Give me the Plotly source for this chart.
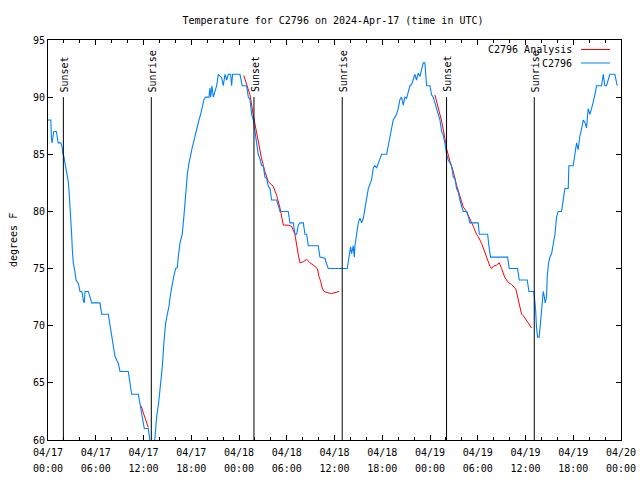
import plotly.graph_objects as go
import pandas as pd

BASE = pd.Timestamp("2024-04-17 00:00")

# Observed temperature (hours since 04/17 00:00 UTC, deg F)
blue_hours = [0.00, 0.36, 0.42, 0.50, 0.62, 0.72, 1.05, 1.12, 1.28, 1.60, 1.78, 1.88, 2.00, 2.14, 2.26, 2.43, 2.55, 2.68, 2.85, 2.97,
              3.06, 3.18, 3.39, 3.52, 3.81, 3.94, 4.02, 4.23, 4.31, 4.44, 4.56, 4.65, 5.07, 5.28, 5.49, 6.53, 6.74, 7.58, 7.79, 8.00,
              8.21, 8.42, 8.63, 8.84, 9.05, 10.09, 10.30, 10.51, 11.35, 11.56, 11.77, 11.98, 12.10, 12.60, 12.81, 13.00, 13.30, 13.44,
              13.65, 13.94, 14.15, 14.36, 14.57, 14.78, 14.99, 15.20, 15.41, 15.62, 15.83, 16.04, 16.25, 16.37, 16.58, 16.79, 16.87,
              17.09, 17.30, 17.50, 17.71, 17.92, 18.13, 18.34, 18.55, 18.76, 18.97, 19.18, 19.39, 19.60, 19.81, 20.23, 20.35, 20.44,
              20.60, 20.77, 21.19, 21.40, 21.82, 22.03, 22.24, 22.45, 22.65, 22.95, 23.07, 23.20, 24.12, 24.40, 24.96, 25.17, 25.38,
              25.59, 25.80, 26.00, 26.20, 26.42, 26.63, 26.84, 27.05, 27.26, 27.47, 27.68, 27.89, 28.10, 28.73, 28.94, 29.15, 30.19,
              30.40, 30.82, 31.03, 31.24, 31.45, 31.66, 32.08, 32.29, 32.50, 32.71, 33.96, 34.17, 34.80, 35.01, 35.22, 37.60, 37.81,
              38.02, 38.15, 38.36, 38.48, 38.57, 38.78, 38.99, 39.20, 39.41, 39.62, 39.83, 40.04, 40.25, 40.67, 40.87, 41.08, 41.29,
              41.50, 41.71, 41.92, 42.55, 42.76, 42.96, 43.17, 43.38, 43.80, 44.01, 44.22, 44.43, 44.64, 44.85, 45.06, 45.27, 45.48,
              45.69, 45.90, 46.10, 46.31, 46.52, 46.73, 46.94, 47.15, 47.36, 47.57, 47.99, 48.20, 48.41, 48.83, 49.25, 49.46, 49.66,
              49.87, 50.08, 50.29, 50.71, 50.92, 51.13, 51.34, 51.55, 51.76, 52.17, 52.59, 52.80, 53.00, 54.06, 54.19, 55.24, 55.40,
              55.61, 57.75, 57.96, 59.00, 59.21, 60.22, 60.43, 61.06, 61.18, 61.27, 61.39, 61.52, 61.72, 61.81, 61.94, 62.10, 62.23,
              62.35, 62.48, 62.65, 62.73, 62.90, 63.07, 63.28, 63.49, 63.61, 63.70, 63.90, 64.10, 64.53, 64.74, 64.95, 65.37, 65.45,
              65.99, 66.20, 66.42, 66.62, 66.83, 67.04, 67.25, 67.46, 67.67, 67.88, 68.09, 68.30, 68.50, 68.72, 68.93, 69.56, 69.77,
              69.97, 70.18, 70.39, 70.60, 71.23, 71.44, 71.52]
blue_temps = [88, 88, 86.5, 86, 86.5, 87, 87, 86.5, 86, 86, 85.6, 85, 84.8, 84.2, 83.8, 83.2, 82.6, 81.4, 79.7, 78,
              76.6, 75.5, 74.7, 74, 73.7, 73.2, 73, 73, 72.8, 72.2, 72, 73, 73, 72.5, 72, 72, 71, 71, 70, 69,
              68, 67.3, 67, 66.7, 66, 66, 65, 64, 64, 63.2, 62.6, 61.8, 61, 61, 60, 59, 59, 60.6,
              62, 63.5, 64.8, 66.4, 68.6, 70.2, 71, 71.7, 72.8, 73.8, 74.4, 75, 75.1, 76, 77.2, 77.8, 78,
              79.7, 82, 83.2, 84.2, 85, 85.6, 86.2, 86.9, 87.3, 88, 88.5, 89.3, 89.8, 90, 90, 90.8, 90,
              91, 90, 91, 92, 91.7, 91, 92, 91.5, 92, 92, 91, 92, 92, 91, 91, 90, 89.8,
              88.5, 88, 87, 86, 85, 84.6, 84, 84, 83, 82.9, 82.2, 82, 81, 81, 80.4, 80, 80,
              79, 79, 78, 78, 78.8, 79, 79, 78, 78, 77, 77, 76, 75.9, 75.4, 75, 75, 76,
              76.9, 76.3, 77, 76, 77, 78, 79, 79.4, 79, 79.4, 80.3, 81, 82, 82.8, 83.8, 84, 83.8,
              84.2, 84.6, 85, 85, 85.8, 86.4, 87, 88, 88.5, 89, 89.8, 90, 89.3, 90, 89.9, 90.4, 91,
              91.1, 91.7, 92, 91.5, 92.1, 91.8, 92.4, 93, 93, 91, 91, 90.2, 90, 89, 88, 87, 86.7,
              86, 85, 84.5, 84, 83, 82.9, 82, 81.7, 81, 80, 80, 79.6, 79, 79, 78, 78, 77,
              76, 76, 75, 75, 74, 74, 73, 73, 72.3, 71.4, 69.8, 69, 69, 69.6, 70.5, 71.5, 73,
              72.6, 72, 72.6, 74.3, 75.5, 76, 76.3, 77.2, 78, 78, 79.5, 80, 80, 81, 82, 82, 84,
              84, 85, 86, 85.4, 86.6, 87.2, 88, 87.8, 87.3, 89, 88.5, 89, 89.5, 90.2, 91, 91, 92,
              91, 91, 91.6, 92, 92, 91, 91]

# Analysis temperature (None = gap between analysis runs)
red_hours = [11.68, 12.00, 12.30, 12.60, None,
             24.60, 24.96, 25.38, 25.80, 26.20, 26.55, 26.84, 27.26, 27.68, 28.31, 28.73, 29.15, 29.57, 30.19, 30.61,
             31.03, 31.24, 31.45, 31.66, 32.08, 32.50, 32.92, 33.54, 33.84, 34.05, 34.26, 34.46, 34.67, 35.09, 35.64,
             36.06, 36.60, None,
             48.62, 49.04, 49.46, 49.87, 50.08, 50.50, 50.92, 51.34, 51.76, 52.17, 52.59, 53.00, 53.43, 53.85, 54.06,
             54.48, 54.69, 55.11, 55.53, 55.74, 55.95, 56.37, 56.70, 57.00, 57.21, 57.41, 57.83, 58.25, 58.79, 59.09,
             59.30, 59.51, 59.71, 60.14, 60.55, 60.76]
red_temps = [63, 62.3, 61.6, 61.1, None,
             91.9, 91.2, 90.2, 88.4, 87, 85.8, 84.6, 83.5, 82.6, 82.2, 81.4, 80.3, 78.8, 78.8, 78.7,
             78, 76.9, 76.2, 75.5, 75.6, 75.8, 75.5, 75.2, 75, 74.3, 73.9, 73.3, 73, 72.9, 72.8,
             72.9, 73, None,
             90.2, 89, 87.9, 86.4, 85.5, 84.4, 83.5, 82.3, 81.3, 80.4, 80, 79.4, 78.7, 78, 77.8,
             77.2, 76.8, 75.9, 75.2, 75, 75.2, 75.3, 75.5, 75, 74.6, 74.2, 73.8, 73.6, 73.2, 72.3,
             71.6, 71, 70.9, 70.4, 70, 69.8]

event_hours = [1.93, 12.98, 25.88, 36.97, 50.08, 61.10]
event_labels = ["Sunset", "Sunrise", "Sunset", "Sunrise", "Sunset", "Sunrise"]
event_top = 90

tick_hours = [0, 6, 12, 18, 24, 30, 36, 42, 48, 54, 60, 66, 72]
tick_dates = ["04/17", "04/17", "04/17", "04/17", "04/18", "04/18", "04/18", "04/18",
              "04/19", "04/19", "04/19", "04/19", "04/20"]
tick_clock = ["00:00", "06:00", "12:00", "18:00", "00:00", "06:00", "12:00", "18:00",
              "00:00", "06:00", "12:00", "18:00", "00:00"]

series_names = ["C2796 Analysis", "C2796"]
series_colors = ["#ff0000", "#0080ff"]


def to_time(hours):
    return [None if h is None else BASE + pd.Timedelta(hours=h) for h in hours]


FONT = "DejaVu Sans Mono"
SPAN = "<span style='font-size:10px'>{}</span>"
tick_text = [SPAN.format(d) + "<br>" + SPAN.format(c) for d, c in zip(tick_dates, tick_clock)]

W, H = 640, 480
L, R, T, B = 48, 19, 40, 40
PW = W - L - R

fig = go.Figure()
fig.add_trace(go.Scatter(x=to_time(red_hours), y=red_temps, mode="lines", name=series_names[0],
                         line=dict(color=series_colors[0], width=1), connectgaps=False))
fig.add_trace(go.Scatter(x=to_time(blue_hours), y=blue_temps, mode="lines", name=series_names[1],
                         line=dict(color=series_colors[1], width=1.1)))

for t, lab in zip(to_time(event_hours), event_labels):
    fig.add_shape(type="line", xref="x", yref="y", x0=t, x1=t, y0=event_top, y1=60,
                  line=dict(color="black", width=1))
    fig.add_annotation(x=t, y=event_top, xref="x", yref="y", text=lab, textangle=-90,
                       showarrow=False, xanchor="center", yanchor="bottom", yshift=3, xshift=1,
                       font=dict(family=FONT, size=10, color="black"))

# legend drawn inside the plot at top-right (gnuplot style)
for i, (nm, col) in enumerate(zip(series_names, series_colors)):
    ypos = 1 - (9.5 + 13.5 * i) / 400
    fig.add_annotation(xref="paper", yref="paper", x=526 / PW, y=ypos, text=nm,
                       showarrow=False, xanchor="right", yanchor="middle",
                       font=dict(family=FONT, size=10, color="black"))
    fig.add_shape(type="line", xref="paper", yref="paper", x0=533 / PW, x1=562 / PW,
                  y0=ypos, y1=ypos, line=dict(color=col, width=1))

fig.add_annotation(xref="paper", yref="paper", x=-35 / PW, y=0.5, text="degrees F",
                   textangle=-90, showarrow=False, xanchor="center", yanchor="middle",
                   font=dict(family=FONT, size=10, color="black"))

fig.update_layout(
    width=W, height=H,
    margin=dict(l=L, r=R, t=T, b=B, autoexpand=False),
    paper_bgcolor="white", plot_bgcolor="white",
    showlegend=False, hovermode=False,
    font=dict(family=FONT, size=10, color="black"),
    title=dict(text="Temperature for C2796 on 2024-Apr-17 (time in UTC)", x=333 / W, xanchor="center",
               y=1 - 20 / H, yanchor="middle", yref="container",
               font=dict(family=FONT, size=10, color="black")),
)
fig.update_xaxes(
    type="date", range=[BASE, BASE + pd.Timedelta(hours=72)], automargin=False,
    tickmode="array", tickvals=to_time(tick_hours), ticktext=tick_text,
    ticks="inside", ticklen=5, tickcolor="black", showline=True, linecolor="black", linewidth=1,
    mirror="allticks", showgrid=False, zeroline=False,
    tickfont=dict(family=FONT, size=12.3, color="black"),
    minor=dict(ticks="inside", ticklen=3, tickcolor="black", dtick=2 * 3600 * 1000, tick0=BASE, showgrid=False),
)
fig.update_yaxes(
    range=[60, 95], tickmode="linear", tick0=60, dtick=5, automargin=False,
    ticks="inside", ticklen=5, tickcolor="black", showline=True, linecolor="black", linewidth=1,
    mirror="allticks", showgrid=False, zeroline=False,
    tickfont=dict(family=FONT, size=10, color="black"),
)

# remove the default 8px page margin so the 640x480 figure fills the window exactly
fig.write_html("out.html", config={"displayModeBar": False},
               post_script="document.body.style.margin='0';")
